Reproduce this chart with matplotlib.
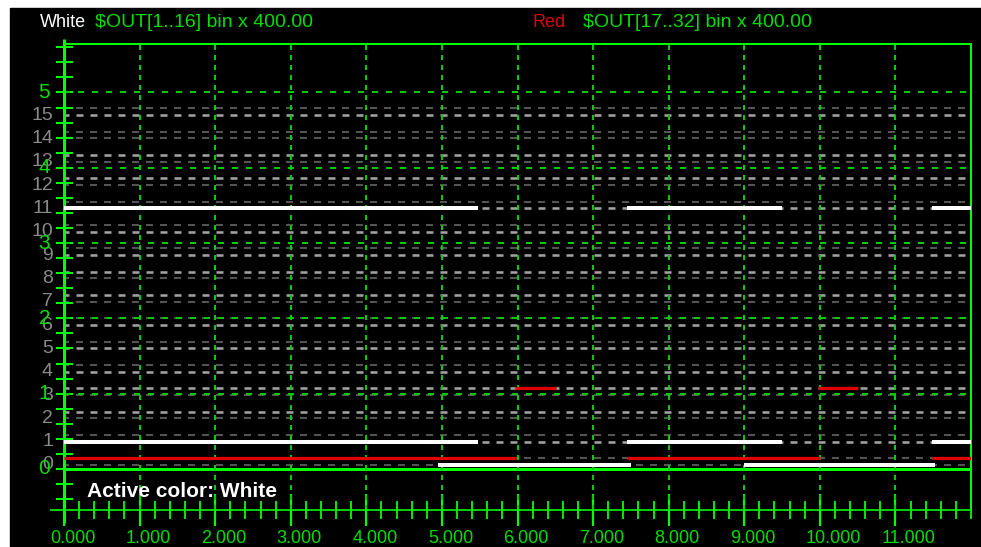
import numpy as np
import matplotlib
matplotlib.use("Agg")
import matplotlib.pyplot as plt
from matplotlib.patches import Rectangle
import matplotlib.transforms as mtrans

plt.rcParams['lines.scale_dashes'] = False
plt.rcParams['font.family'] = ['Liberation Sans', 'DejaVu Sans']

# ---------------- data ----------------
x_ticks = list(range(12))
x_tick_labels = [f"{v:.3f}" for v in x_ticks]
green_levels = [0, 1, 2, 3, 4, 5]
gray_lanes = list(range(16))

# white trace ($OUT[1..16]) segments: lane, start, end
white_lane = [11, 11, 11, 1, 1, 1, 0, 0]
white_t0 = [0.0, 7.45, 11.49, 0.0, 7.45, 11.49, 4.95, 9.00]
white_t1 = [5.48, 9.50, 12.0, 5.48, 9.50, 12.0, 7.50, 11.53]

# red trace ($OUT[17..32]) segments: lane, start, end (drawn on high level)
red_lane = [0, 0, 0, 3, 3]
red_t0 = [0.0, 7.45, 11.49, 5.97, 9.98]
red_t1 = [5.98, 10.0, 12.0, 6.51, 10.51]

title_white = "White"
title_white_sig = r"\$OUT[1..16] bin x 400.00"
title_red = "Red"
title_red_sig = r"\$OUT[17..32] bin x 400.00"
active_text = "Active color: White"

# --------------- style ---------------
HIGH = 0.29  # offset of the high level line within a lane
upper_bold = [2, 3, 7, 8, 12, 13]
lower_bold = [1, 4, 5, 6, 9, 10, 11, 15]
GREEN = '#00ff00'
GGRID = '#00cc00'
GTEXT = '#00dd00'
px = 0.72  # points per pixel at 100 dpi

W, H = 981, 547
fig = plt.figure(figsize=(W / 100, H / 100), dpi=100)
fig.patch.set_facecolor('white')
fig.add_artist(Rectangle((10 / W, 0), (W - 10) / W, (H - 8) / H,
                         transform=fig.transFigure, color='black', zorder=-10))

pos = [64 / W, 37 / H, 907 / W, 466 / H]
ax_gray = fig.add_axes(pos, zorder=1)
ax = fig.add_axes(pos, zorder=2)
ax_tr = fig.add_axes(pos, zorder=3)

for a in (ax_gray, ax, ax_tr):
    a.set_xlim(0, 12)
    a.patch.set_visible(False)
ax_gray.patch.set_visible(True)
ax_gray.set_facecolor('black')
ax.set_ylim(-0.545, 5.644)
ax_gray.set_ylim(-1.929, 18.045)
ax_tr.set_ylim(-1.929, 18.045)
for a in (ax_gray, ax_tr):
    a.axis('off')

# gray lane dashed lines
for lane in gray_lanes:
    for lvl, bold in ((lane + HIGH, lane in upper_bold), (lane, lane in lower_bold)):
        ax_gray.hlines(lvl, 0, 12,
                       colors='#a0a0a0' if bold else '#6a6a6a',
                       linewidth=(2.6 if bold else 1.6) * px,
                       linestyles=[(2 * px, (7 * px, 7 * px))])

# green grid
for g in green_levels:
    if g == 0:
        ax.axhline(g, color=GREEN, lw=3 * px)
    else:
        ax.axhline(g, color=GGRID, lw=2 * px, linestyle=(0, (6 * px, 8 * px)))
for xv in x_ticks[1:]:
    ax.axvline(xv, color=GGRID, lw=2 * px, linestyle=(0, (5 * px, 5 * px)))

# spines
for s in ('left', 'bottom'):
    ax.spines[s].set_visible(False)
ax.spines['top'].set_color(GREEN)
ax.spines['top'].set_linewidth(2 * px)
ax.spines['right'].set_color(GREEN)
ax.spines['right'].set_linewidth(2 * px)
ax.plot([0, 0], [-13 / 466, 1 + 5 / 466], transform=ax.transAxes, color=GREEN,
        lw=3 * px, clip_on=False, solid_capstyle='butt')
ax.plot([-14 / 907, 1], [0, 0], transform=ax.transAxes, color=GREEN,
        lw=1.6 * px, clip_on=False, solid_capstyle='butt')

# ticks
ax.set_xticks(x_ticks)
ax.set_xticks(np.arange(0, 12.01, 0.2), minor=True)
ax.set_yticks(np.arange(-0.4, 5.61, 0.2))
ax.tick_params(axis='x', which='major', direction='inout', length=32 * px,
               width=2.2 * px, color=GREEN, labelbottom=False)
ax.tick_params(axis='x', which='minor', direction='inout', length=18 * px,
               width=1.8 * px, color=GREEN)
ax.tick_params(axis='y', which='major', direction='inout', length=17 * px,
               width=2 * px, color=GREEN, labelleft=False)

# x tick labels (left-aligned slightly before tick)
xl_trans = mtrans.offset_copy(ax.get_xaxis_transform(), fig=fig, x=-14, y=0, units='dots')
for xv, lab in zip(x_ticks, x_tick_labels):
    ax.text(xv, -33 / 466, lab, transform=xl_trans, ha='left', va='baseline',
            color=GTEXT, fontsize=13)

# green y labels
for g in green_levels:
    ax.text(-14 / 907, g, str(g), transform=ax.get_yaxis_transform(), ha='right',
            va='center', color=GTEXT, fontsize=15, clip_on=False)
# gray lane labels
for lane in gray_lanes:
    ax_gray.text(-11 / 907, lane, str(lane), transform=ax_gray.get_yaxis_transform(),
                 ha='right', va='center', color='#8a8a8a', fontsize=14, clip_on=False)

# traces
ax_tr.hlines(white_lane, white_t0, white_t1, colors='white', lw=4 * px)
ax_tr.hlines([l + HIGH for l in red_lane], red_t0, red_t1, colors='#e00000', lw=3.2 * px)

# header texts
yb = 1 - 27 / H
fig.text(40 / W, yb, title_white, color='white', fontsize=13, va='baseline')
fig.text(95 / W, yb, title_white_sig, color=GTEXT, fontsize=14, va='baseline')
fig.text(532 / W, yb, title_red, color='#dd0000', fontsize=13, va='baseline')
fig.text(583 / W, yb, title_red_sig, color=GTEXT, fontsize=14, va='baseline')

fig.text(87 / W, 1 - 497 / H, active_text, color='white', fontsize=15,
         fontweight='bold', va='baseline', zorder=10)

fig.savefig('out.png', dpi=100, facecolor=fig.get_facecolor())
